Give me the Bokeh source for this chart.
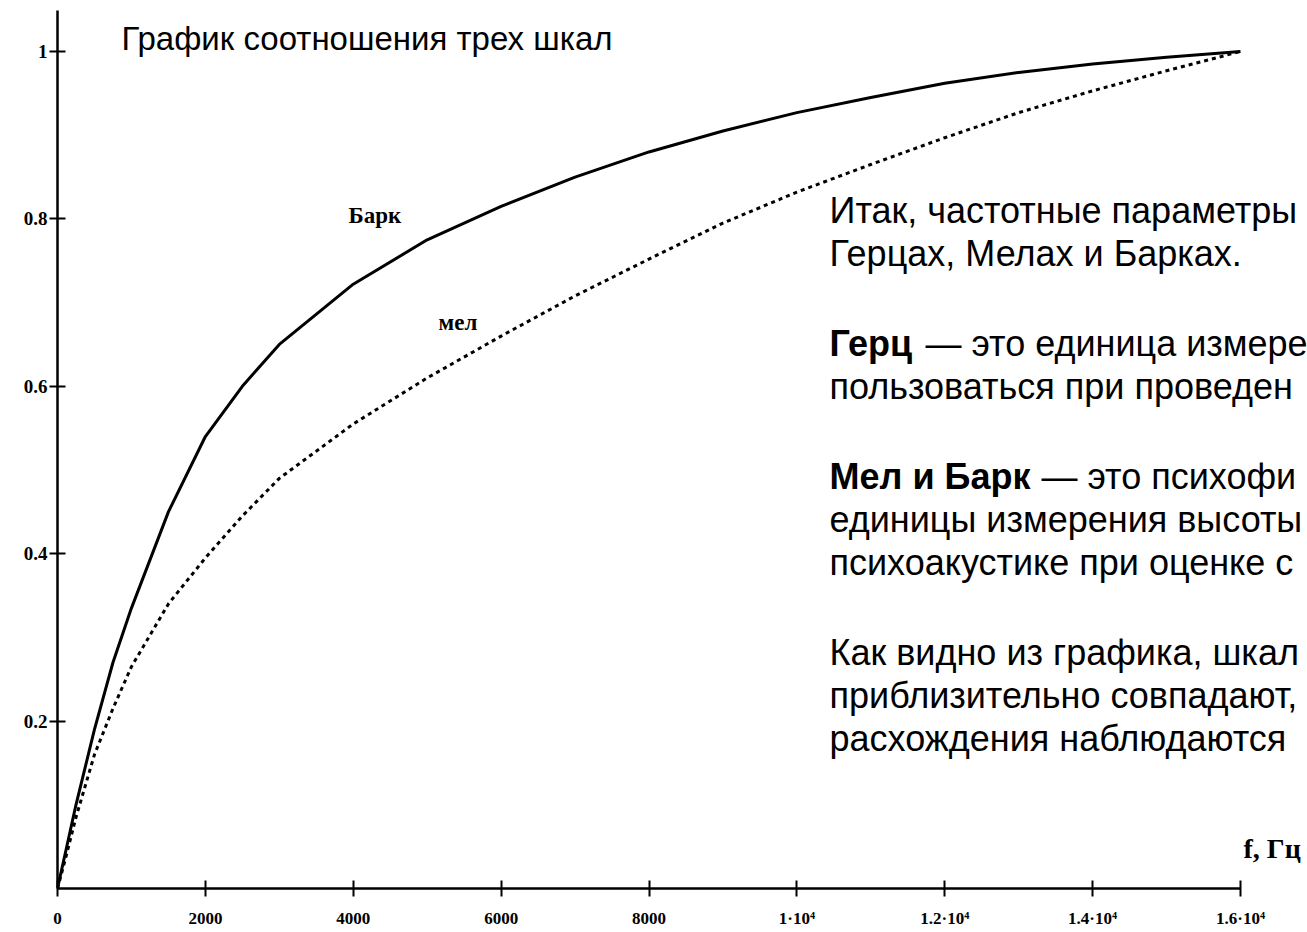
from bokeh.plotting import figure
from bokeh.models import Range1d, Label, FixedTicker
from bokeh.embed import file_html
from bokeh.resources import INLINE

# ---- data ----
freq = [0, 100, 250, 500, 750, 1000, 1500, 2000, 2500, 3000, 4000, 5000, 6000,
        7000, 8000, 9000, 10000, 11000, 12000, 13000, 14000, 15000, 16000]
bark = [0, 0.04, 0.1, 0.19, 0.27, 0.335, 0.45, 0.54, 0.6, 0.65, 0.722, 0.775, 0.815,
        0.85, 0.88, 0.905, 0.927, 0.945, 0.962, 0.975, 0.985, 0.993, 1.0]
mel = [0, 0.033, 0.085, 0.16, 0.215, 0.265, 0.34, 0.395, 0.445, 0.49, 0.555, 0.61, 0.66,
       0.708, 0.752, 0.795, 0.832, 0.865, 0.897, 0.927, 0.953, 0.977, 1.0]

x_ticks = [0, 2000, 4000, 6000, 8000, 10000, 12000, 14000, 16000]
x_tick_labels = ["0", "2000", "4000", "6000", "8000", "1·10⁴", "1.2·10⁴", "1.4·10⁴", "1.6·10⁴"]
y_ticks = [0.2, 0.4, 0.6, 0.8, 1.0]
y_tick_labels = ["0.2", "0.4", "0.6", "0.8", "1"]

title_text = "График соотношения трех шкал"
x_label_text = "f, Гц"
bark_label = "Барк"
mel_label = "мел"

# (bold prefix, normal text) per line, as visible in the reference
body_lines = [
    ("", "Итак, частотные параметры"),
    ("", "Герцах, Мелах и Барках."),
    None,
    ("Герц", "— это единица измере"),
    ("", "пользоваться при проведен"),
    None,
    ("Мел и Барк", "— это психофи"),
    ("", "единицы измерения высоты"),
    ("", "психоакустике при оценке с"),
    None,
    ("", "Как видно из графика, шкал"),
    ("", "приблизительно совпадают,"),
    ("", "расхождения наблюдаются"),
]

# ---- geometry helpers (page pixels -> data) ----
X0_PX, PX_PER_UNIT_X = 57.0, 1183.0 / 16000
Y0_PX, PX_PER_UNIT_Y = 888.0, 837.0


def dx(px):
    return (px - X0_PX) / PX_PER_UNIT_X


def dy(py):
    return (Y0_PX - py) / PX_PER_UNIT_Y


W, H = 1307, 932
p = figure(width=W, height=H,
           x_range=Range1d(0, dx(W)), y_range=Range1d(0, dy(0)),
           output_backend="svg", toolbar_location=None,
           min_border_left=57, min_border_right=0, min_border_top=0,
           min_border_bottom=H - 888)
p.outline_line_color = None
p.grid.visible = False
p.background_fill_color = "white"
p.border_fill_color = "white"

p.line(freq, bark, line_color="black", line_width=3)
p.line(freq, mel, line_color="black", line_width=3, line_dash="4 4")

xa = p.xaxis[0]
xa.ticker = FixedTicker(ticks=x_ticks)
xa.major_label_overrides = dict(zip(x_ticks, x_tick_labels))
xa.bounds = (0, 16000)
ya = p.yaxis[0]
ya.ticker = FixedTicker(ticks=y_ticks)
ya.major_label_overrides = dict(zip(y_ticks, y_tick_labels))
ya.bounds = (0, dy(10))

for ax in (xa, ya):
    ax.axis_line_color = "black"
    ax.axis_line_width = 2.5
    ax.major_tick_line_color = "black"
    ax.major_tick_line_width = 2
    ax.major_tick_in = 8
    ax.major_tick_out = 8
    ax.minor_tick_line_color = None
    ax.major_label_text_font = "Liberation Serif"
    ax.major_label_text_font_style = "bold"
    ax.major_label_text_color = "black"
xa.major_label_text_font_size = "17px"
xa.major_label_standoff = 12
ya.major_label_text_font_size = "19px"
ya.major_label_standoff = 2

# title
p.add_layout(Label(x=dx(121), y=dy(38), text=title_text, text_font="Liberation Sans",
                   text_font_size="33px", text_color="black", text_baseline="middle"))
# curve labels
p.add_layout(Label(x=dx(348), y=dy(215), text=bark_label, text_font="Liberation Serif",
                   text_font_style="bold", text_font_size="23px", text_color="black",
                   text_baseline="middle"))
p.add_layout(Label(x=dx(438), y=dy(322), text=mel_label, text_font="Liberation Serif",
                   text_font_style="bold", text_font_size="23px", text_color="black",
                   text_baseline="middle"))
p.add_layout(Label(x=dx(1243), y=dy(848), text=x_label_text, text_font="Liberation Serif",
                   text_font_style="bold", text_font_size="28px", text_color="black",
                   text_baseline="middle"))

# body text block
BODY_X = 829
y = 210.0
LINE, GAP = 43.0, 47.0
BOLD_W = {"Герц": 96, "Мел и Барк": 212}
for item in body_lines:
    if item is None:
        y += GAP
        continue
    bold, normal = item
    x = BODY_X
    if bold:
        p.add_layout(Label(x=dx(x), y=dy(y), text=bold, text_font="Liberation Sans",
                           text_font_style="bold", text_font_size="36px", text_color="black",
                           text_baseline="middle"))
        x += BOLD_W[bold]
    p.add_layout(Label(x=dx(x), y=dy(y), text=normal, text_font="Liberation Sans",
                       text_font_size="36px", text_color="black", text_baseline="middle"))
    y += LINE

open("out.html", "w").write(file_html(p, INLINE))
